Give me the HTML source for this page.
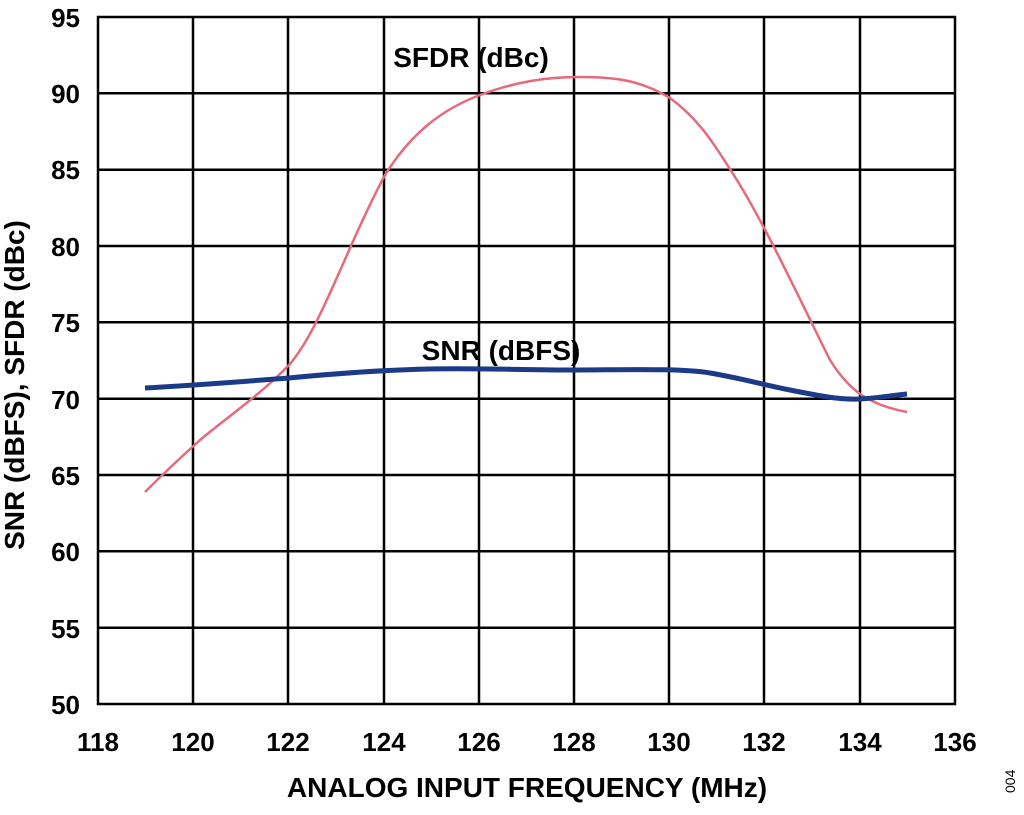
<!DOCTYPE html>
<html><head><style>
body{margin:0;background:#fff;}
svg text{font-family:"Liberation Sans",Arial,sans-serif;font-weight:bold;fill:#000;}
</style></head><body>
<svg width="1024" height="810" viewBox="0 0 1024 810" xmlns="http://www.w3.org/2000/svg">
<g stroke="#000" stroke-width="2.5" fill="none">
<rect x="98" y="17" width="857" height="687"/>
<path d="M193 17V704M288 17V704M384 17V704M479 17V704M574 17V704M669 17V704M764 17V704M860 17V704"/>
<path d="M98 93.3H955M98 169.7H955M98 246H955M98 322.3H955M98 398.7H955M98 475H955M98 551.3H955M98 627.7H955"/>
</g>
<g font-size="26" text-anchor="end">
<text x="80" y="27">95</text><text x="80" y="103">90</text><text x="80" y="179">85</text><text x="80" y="256">80</text><text x="80" y="332">75</text><text x="80" y="409">70</text><text x="80" y="485">65</text><text x="80" y="561">60</text><text x="80" y="638">55</text><text x="80" y="714">50</text>
</g>
<g font-size="26" text-anchor="middle">
<text x="98" y="751">118</text><text x="193" y="751">120</text><text x="288" y="751">122</text><text x="384" y="751">124</text><text x="479" y="751">126</text><text x="574" y="751">128</text><text x="669" y="751">130</text><text x="764" y="751">132</text><text x="860" y="751">134</text><text x="955" y="751">136</text>
</g>
<g font-size="28" text-anchor="middle">
<text x="527" y="797">ANALOG INPUT FREQUENCY (MHz)</text>
<text transform="translate(24,385) rotate(-90)">SNR (dBFS), SFDR (dBc)</text>
<text x="471" y="67">SFDR (dBc)</text>
<text x="501" y="360">SNR (dBFS)</text>
</g>
<text font-size="14" transform="translate(1015,793) rotate(-90)" style="font-weight:normal">004</text>
<path d="M145 492 C165 472,180 458,200 440 C230 415,260 395,289 365 C320 330,345 250,385 175 C410 135,440 110,480 95 C515 82,545 77,580 77 C615 77,640 80,670 98 C700 120,715 145,740 185 C770 235,800 300,830 360 C850 392,870 405,907 412" stroke="#e8687c" stroke-width="2.5" fill="none"/>
<path d="M145 388 C200 385,250 381,289 378 C330 374,380 370,430 369 C480 368,520 370,575 370 C620 370,680 368,710 373 C740 378,760 384,790 390 C820 396,840 400,860 399 C880 398,895 395,907 394" stroke="#1b3a88" stroke-width="5" fill="none"/>
</svg>
</body></html>
